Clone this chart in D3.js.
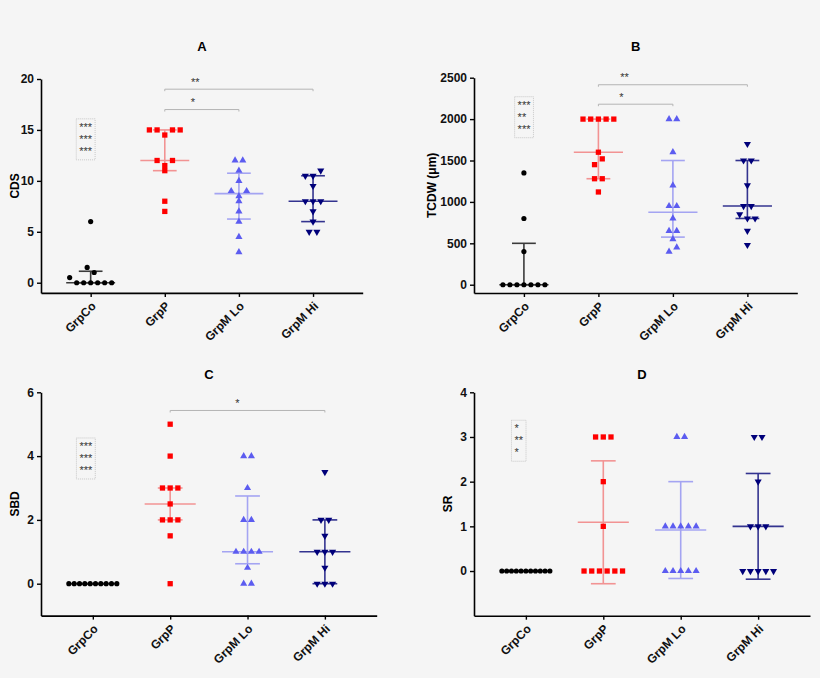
<!DOCTYPE html>
<html>
<head>
<meta charset="utf-8">
<script src="https://cdn.jsdelivr.net/npm/d3@7"></script>
<style>
  body { margin: 0; background: #f5f5f5; }
  svg { display: block; font-family: "Liberation Sans", Arial, sans-serif; }
</style>
</head>
<body>
<svg id="chart" width="820" height="678"></svg>
<script>
var groups = ["GrpCo", "GrpP", "GrpM Lo", "GrpM Hi"];

// A - CDS (order of values = left-to-right order inside a row)
var cdsCo = [6, 1.5, 1, 0.5, 0, 0, 0, 0, 0, 0];
var cdsP = [15, 15, 14.5, 15, 15, 12, 11.5, 12, 11, 8, 7];
var cdsLo = [12, 12, 11, 10, 9, 8.5, 9, 8, 7, 6, 4.5, 3];
var cdsHi = [10.5, 10.5, 11, 9.5, 8, 8, 8, 7, 6, 5, 5];
var cdsTicks = [0, 5, 10, 15, 20];

// B - TCDW
var tcdwCo = [1350, 800, 400, 0, 0, 0, 0, 0, 0, 0];
var tcdwP = [2000, 2000, 2000, 2000, 2000, 1600, 1450, 1520, 1280, 1280, 1120];
var tcdwLo = [2000, 2000, 1600, 1200, 950, 950, 800, 650, 650, 550, 400, 450];
var tcdwHi = [1700, 1500, 1500, 1200, 950, 950, 850, 800, 800, 650, 480];
var tcdwTicks = [0, 500, 1000, 1500, 2000, 2500];

// C - SBD
var sbdCo = [0, 0, 0, 0, 0, 0, 0, 0, 0, 0];
var sbdP = [5, 4, 3, 3, 3, 2.5, 2, 2, 2, 1.5, 0];
var sbdLo = [4, 4, 3, 2, 2, 1, 1, 1, 1, 0.5, 0, 0];
var sbdHi = [3.5, 2, 2, 1.5, 1, 1, 1, 0.5, 0, 0, 0];
var sbdTicks = [0, 2, 4, 6];

// D - SR
var srCo = [0, 0, 0, 0, 0, 0, 0, 0, 0, 0, 0];
var srP = [3, 3, 3, 2, 1, 0, 0, 0, 0, 0, 0];
var srLo = [3, 3, 1, 1, 1, 1, 1, 0, 0, 0, 0, 0];
var srHi = [3, 3, 2, 1, 1, 1, 0, 0, 0, 0, 0];
var srTicks = [0, 1, 2, 3, 4];

// significance brackets (group index from/to, height in data units)
var sigA = [{from: 1, to: 3, y: 19, label: "**", at: 1.41}, {from: 1, to: 2, y: 17, label: "*", at: 1.38}];
var sigB = [{from: 1, to: 3, y: 2415, label: "**", at: 1.35}, {from: 1, to: 2, y: 2180, label: "*", at: 1.31}];
var sigC = [{from: 1, to: 3, y: 5.43, label: "*", at: 1.87}];
var starsA = ["***", "***", "***"];
var starsB = ["***", "**", "***"];
var starsC = ["***", "***", "***"];
var starsD = ["*", "**", "*"];

var dotColors = ["#000000", "#ff0000", "#5c5cf0", "#00007a"];
var barColors = ["#3a3a3a", "#f29393", "#a4a4f2", "#33338f"];

var svg = d3.select("#chart");
svg.append("rect").attr("width", 820).attr("height", 678).attr("fill", "#f5f5f5");

// prism-like quantile, (n+1)p
function quant(vals, p) {
  var s = vals.slice().sort(d3.ascending);
  var h = (s.length + 1) * p;
  var lo = Math.floor(h), f = h - lo;
  if (lo < 1) return s[0];
  if (lo >= s.length) return s[s.length - 1];
  return s[lo - 1] + f * (s[lo] - s[lo - 1]);
}

function stats(vals, type) {
  if (type == "mean") {
    var m = d3.mean(vals), sd = d3.deviation(vals) || 0;
    return {mid: m, lo: m - sd, hi: m + sd};
  }
  return {mid: quant(vals, 0.5), lo: quant(vals, 0.25), hi: quant(vals, 0.75)};
}

// put points with close values in one row, spread around the group centre
function rowOffsets(vals, y, step, maxSpan) {
  var idx = vals.map((v, i) => i).sort((a, b) => vals[b] - vals[a] || a - b);
  var rows = [], cur = null;
  idx.forEach(i => {
    if (cur && Math.abs(y(vals[i]) - y(vals[cur[0]])) <= 6) cur.push(i);
    else { cur = [i]; rows.push(cur); }
  });
  var off = [];
  rows.forEach(r => {
    r.sort((a, b) => a - b);
    var n = r.length;
    var s = n > 1 ? Math.min(step, maxSpan / (n - 1)) : 0;
    r.forEach((i, k) => { off[i] = (k - (n - 1) / 2) * s; });
  });
  return off;
}

function drawPanel(p) {
  var g = svg.append("g");
  var x = d3.scalePoint().domain(groups).range(p.xRange).padding(0.67);
  var y = d3.scaleLinear().domain(p.yDomain).range(p.yRange);
  var step = x.step();
  var bottom = p.yRange[0];

  // axes
  var ya = g.append("g")
    .attr("transform", "translate(" + p.xRange[0] + ",0)")
    .call(d3.axisLeft(y).tickValues(p.ticks).tickFormat(d3.format("d"))
      .tickSize(4).tickSizeOuter(0).tickPadding(3));
  var xa = g.append("g")
    .attr("transform", "translate(0," + bottom + ")")
    .call(d3.axisBottom(x).tickSize(4).tickSizeOuter(0).tickFormat(""));
  [ya, xa].forEach(a => {
    a.select(".domain").attr("stroke", "#000").attr("stroke-width", 1.6);
    a.selectAll(".tick line").attr("stroke", "#000").attr("stroke-width", 1.4);
  });
  ya.selectAll(".tick text")
    .attr("font-size", "12px").attr("font-weight", "bold").attr("fill", "#111")
    .attr("font-family", "Liberation Sans, Arial, sans-serif");

  g.selectAll("text.xlab")
    .data(groups)
    .join("text")
    .classed("xlab", true)
    .attr("transform", d => "translate(" + (x(d) + 3) + "," + (bottom + 11) + ") rotate(-45)")
    .attr("text-anchor", "end")
    .attr("dy", "0.35em")
    .attr("font-size", "12px")
    .attr("font-weight", "bold")
    .attr("fill", "#111")
    .text(d => d);

  // titles
  g.append("text")
    .attr("x", (p.xRange[0] + p.xRange[1]) / 2)
    .attr("y", p.titleY)
    .attr("text-anchor", "middle")
    .attr("font-size", "13px").attr("font-weight", "bold")
    .text(p.title);
  g.append("text")
    .attr("transform", "translate(" + p.yTitleX + "," + ((p.yRange[0] + p.yRange[1]) / 2) + ") rotate(-90)")
    .attr("text-anchor", "middle")
    .attr("dy", "0.35em")
    .attr("font-size", "12px").attr("font-weight", "bold")
    .text(p.yTitle);

  // brackets
  var sig = g.append("g");
  (p.sig || []).forEach(s => {
    var x1 = x(groups[s.from]), x2 = x(groups[s.to]), yy = y(s.y);
    sig.append("path")
      .attr("d", "M" + x1 + "," + (yy + 2) + "V" + yy + "H" + x2 + "V" + (yy + 2))
      .attr("fill", "none").attr("stroke", "#b4b4b4").attr("stroke-width", 1);
    sig.append("text")
      .attr("x", x(groups[0]) + s.at * step)
      .attr("y", yy - 3.5)
      .attr("text-anchor", "middle")
      .attr("font-size", "11px").attr("fill", "#333")
      .text(s.label);
  });

  // star box beside control group
  var top = y(p.starsAt);
  var st = g.append("g");
  var widths = [];
  p.stars.forEach((t, i) => {
    var tx = st.append("text")
      .attr("x", x(groups[0]) + p.starsDx)
      .attr("y", top + i * 12 + 6)
      .attr("font-size", "11px").attr("fill", "#333")
      .text(t);
    widths.push(tx.node().getComputedTextLength());
  });
  st.insert("rect", "text")
    .attr("x", x(groups[0]) + p.starsDx - 3)
    .attr("y", top - 6)
    .attr("width", d3.max(widths) + 6)
    .attr("height", (p.stars.length - 1) * 12 + 17)
    .attr("fill", "none").attr("stroke", "#bdbdbd").attr("stroke-width", 0.8)
    .attr("stroke-dasharray", "1,1");

  // error bars then dots
  p.series.forEach((vals, gi) => {
    var cx = x(groups[gi]);
    var s = stats(vals, p.stat);
    var eb = g.append("g").attr("stroke", barColors[gi]).attr("stroke-width", 1.6).attr("fill", "none");
    var midHalf = step * 0.33, capHalf = step * 0.16;
    eb.append("line").attr("x1", cx).attr("x2", cx).attr("y1", y(s.lo)).attr("y2", y(s.hi));
    eb.append("line").attr("x1", cx - midHalf).attr("x2", cx + midHalf).attr("y1", y(s.mid)).attr("y2", y(s.mid));
    [s.lo, s.hi].forEach(v => {
      eb.append("line").attr("x1", cx - capHalf).attr("x2", cx + capHalf).attr("y1", y(v)).attr("y2", y(v));
    });

    var round = gi == 0;
    var off = rowOffsets(vals, y, round ? 7 : 7.7, step * 0.62);
    var sym = [d3.symbolCircle, d3.symbolSquare, d3.symbolTriangle, d3.symbolTriangle][gi];
    var size = [21, 28, 22, 22][gi];
    g.append("g").selectAll("path")
      .data(vals)
      .join("path")
      .attr("d", d3.symbol().type(sym).size(size))
      .attr("transform", (d, i) => "translate(" + (cx + off[i]) + "," + y(d) + ")" + (gi == 3 ? " rotate(180)" : ""))
      .attr("fill", dotColors[gi]);
  });
}

var panels = [
  {title: "A", yTitle: "CDS", series: [cdsCo, cdsP, cdsLo, cdsHi], ticks: cdsTicks, stat: "median",
   xRange: [41, 362.7], yDomain: [-1, 20], yRange: [292.9, 79], titleY: 50.5, yTitleX: 15,
   sig: sigA, stars: starsA, starsAt: 15.5, starsDx: -11.4},
  {title: "B", yTitle: "TCDW (\u03bcm)", series: [tcdwCo, tcdwP, tcdwLo, tcdwHi], ticks: tcdwTicks, stat: "median",
   xRange: [474, 797.3], yDomain: [-100, 2500], yRange: [293, 77.7], titleY: 50.5, yTitleX: 431.7,
   sig: sigB, stars: starsB, starsAt: 2198, starsDx: -6.3},
  {title: "C", yTitle: "SBD", series: [sbdCo, sbdP, sbdLo, sbdHi], ticks: sbdTicks, stat: "median",
   xRange: [41, 376.7], yDomain: [-1, 6], yRange: [615.6, 392.3], titleY: 378.7, yTitleX: 15,
   sig: sigC, stars: starsC, starsAt: 4.38, starsDx: -13.4},
  {title: "D", yTitle: "SR", series: [srCo, srP, srLo, srHi], ticks: srTicks, stat: "mean",
   xRange: [474, 810], yDomain: [-1, 4], yRange: [615.7, 392.3], titleY: 378.7, yTitleX: 448,
   sig: [], stars: starsD, starsAt: 3.24, starsDx: -11.4}
];

panels.forEach(drawPanel);
</script>
</body>
</html>
